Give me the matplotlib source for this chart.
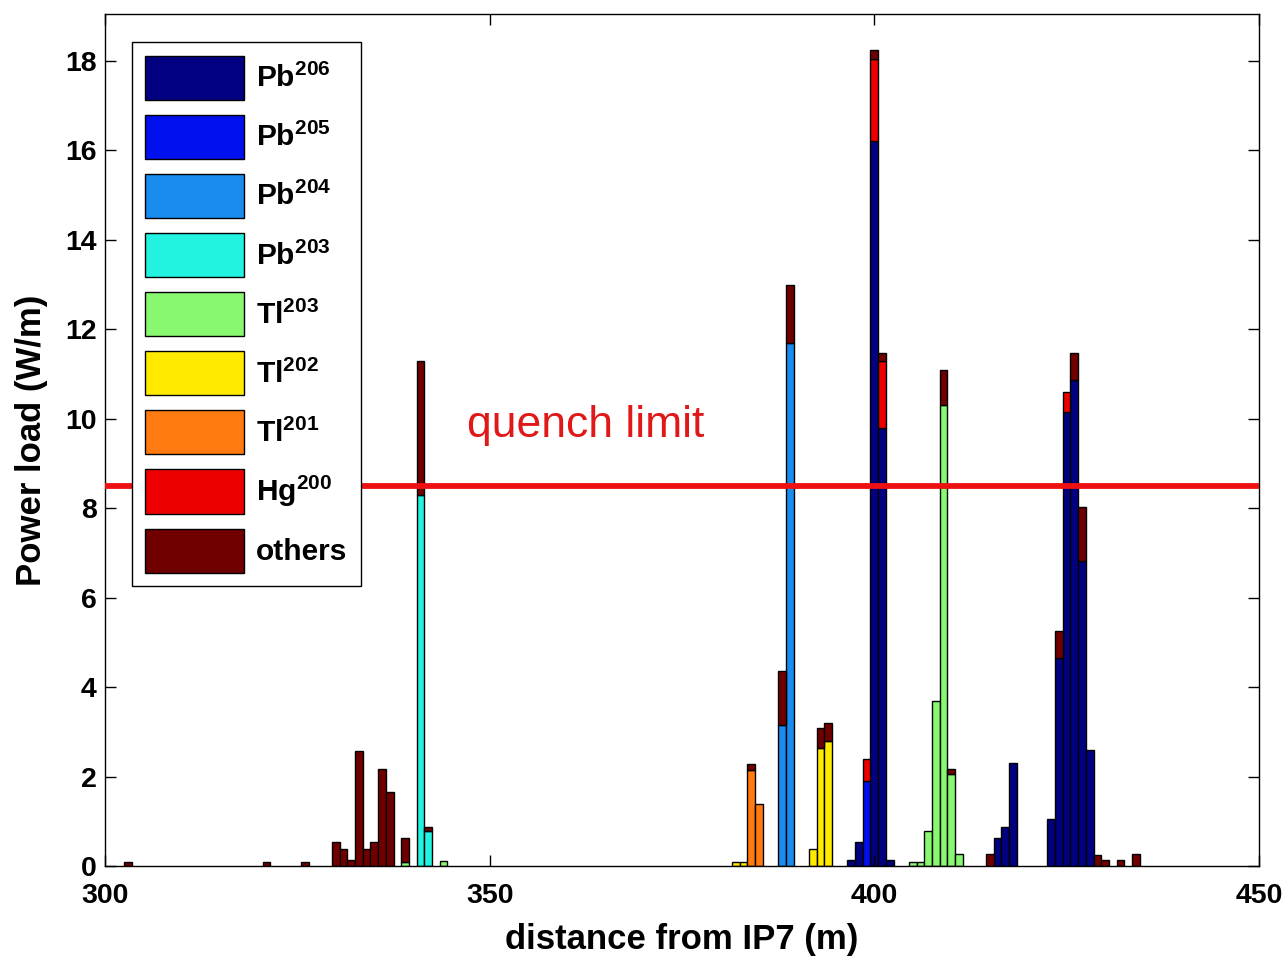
import matplotlib
matplotlib.use('Agg')
import matplotlib.pyplot as plt
import numpy as np

plt.rcParams['font.family'] = ['Liberation Sans', 'DejaVu Sans']
plt.rcParams['font.weight'] = 'bold'
plt.rcParams['mathtext.fontset'] = 'custom'
plt.rcParams['mathtext.rm'] = 'Liberation Sans:bold'
plt.rcParams['mathtext.bf'] = 'Liberation Sans:bold'

# bin centres (m from IP7), 1 m bins
pos = [303, 321, 326, 330, 331, 332, 333, 334, 335, 336, 337, 339, 341, 342, 344,
       382, 383, 384, 385, 388, 389, 392, 393, 394, 397, 398, 399, 400, 401, 402,
       405, 406, 407, 408, 409, 410, 411, 415, 416, 417, 418,
       423, 424, 425, 426, 427, 428, 429, 430, 432, 434]

pb206 = [0, 0, 0, 0, 0, 0, 0, 0, 0, 0, 0, 0, 0, 0, 0,
         0, 0, 0, 0, 0, 0, 0, 0, 0, 0.13, 0.54, 0, 16.2, 9.8, 0.13,
         0, 0, 0, 0, 0, 0, 0, 0, 0.63, 0.88, 2.31,
         1.05, 4.65, 10.15, 10.86, 6.83, 2.6, 0, 0, 0, 0]
pb205 = [0, 0, 0, 0, 0, 0, 0, 0, 0, 0, 0, 0, 0, 0, 0,
         0, 0, 0, 0, 0, 0, 0, 0, 0, 0, 0, 1.9, 0, 0, 0,
         0, 0, 0, 0, 0, 0, 0, 0, 0, 0, 0,
         0, 0, 0, 0, 0, 0, 0, 0, 0, 0]
pb204 = [0, 0, 0, 0, 0, 0, 0, 0, 0, 0, 0, 0, 0, 0, 0,
         0, 0, 0, 0, 3.15, 11.7, 0, 0, 0, 0, 0, 0, 0, 0, 0,
         0, 0, 0, 0, 0, 0, 0, 0, 0, 0, 0,
         0, 0, 0, 0, 0, 0, 0, 0, 0, 0]
pb203 = [0, 0, 0, 0, 0, 0, 0, 0, 0, 0, 0, 0, 8.3, 0.78, 0,
         0, 0, 0, 0, 0, 0, 0, 0, 0, 0, 0, 0, 0, 0, 0,
         0, 0, 0, 0, 0, 0, 0, 0, 0, 0, 0,
         0, 0, 0, 0, 0, 0, 0, 0, 0, 0]
tl203 = [0, 0, 0, 0, 0, 0, 0, 0, 0, 0, 0, 0.08, 0, 0, 0.11,
         0, 0, 0, 0, 0, 0, 0, 0, 0, 0, 0, 0, 0, 0, 0,
         0.1, 0.1, 0.78, 3.69, 10.3, 2.05, 0.28, 0, 0, 0, 0,
         0, 0, 0, 0, 0, 0, 0, 0, 0, 0]
tl202 = [0, 0, 0, 0, 0, 0, 0, 0, 0, 0, 0, 0, 0, 0, 0,
         0.1, 0.1, 0, 0, 0, 0, 0.37, 2.65, 2.8, 0, 0, 0, 0, 0, 0,
         0, 0, 0, 0, 0, 0, 0, 0, 0, 0, 0,
         0, 0, 0, 0, 0, 0, 0, 0, 0, 0]
tl201 = [0, 0, 0, 0, 0, 0, 0, 0, 0, 0, 0, 0, 0, 0, 0,
         0, 0, 2.15, 1.39, 0, 0, 0, 0, 0, 0, 0, 0, 0, 0, 0,
         0, 0, 0, 0, 0, 0, 0, 0, 0, 0, 0,
         0, 0, 0, 0, 0, 0, 0, 0, 0, 0]
hg200 = [0, 0, 0, 0, 0, 0, 0, 0, 0, 0, 0, 0, 0, 0, 0,
         0, 0, 0, 0, 0, 0, 0, 0, 0, 0, 0, 0.5, 1.85, 1.5, 0,
         0, 0, 0, 0, 0, 0, 0, 0, 0, 0, 0,
         0, 0, 0.45, 0, 0, 0, 0, 0, 0, 0]
others = [0.1, 0.1, 0.1, 0.54, 0.39, 0.13, 2.57, 0.39, 0.54, 2.17, 1.66, 0.55, 3.0, 0.09, 0,
          0, 0, 0.14, 0, 1.2, 1.3, 0, 0.43, 0.39, 0, 0, 0, 0.2, 0.17, 0,
          0, 0, 0, 0, 0.8, 0.11, 0, 0.28, 0, 0, 0,
          0, 0.6, 0, 0.6, 1.2, 0, 0.25, 0.13, 0.13, 0.28]

labels = [r'Pb$^{206}$', r'Pb$^{205}$', r'Pb$^{204}$', r'Pb$^{203}$', r'Tl$^{203}$',
          r'Tl$^{202}$', r'Tl$^{201}$', r'Hg$^{200}$', 'others']
colors = ['#000080', '#0010EE', '#1A8CF0', '#22F2E0', '#88F870',
          '#FFEA00', '#FF7A10', '#EE0000', '#700000']
quench = 8.5

fig = plt.figure(figsize=(12.84, 9.56), dpi=100)
ax = fig.add_axes([0.0818, 0.0941, 0.8987, 0.8913])

x = np.array(pos)
bottom = np.zeros(len(pos))
handles = []
for vals, c, lab in zip([pb206, pb205, pb204, pb203, tl203, tl202, tl201, hg200, others],
                        colors, labels):
    v = np.array(vals, dtype=float)
    m = v > 0
    b = ax.bar(x[m], v[m], bottom=bottom[m], width=1.0, color=c,
               edgecolor='black', linewidth=1.0, label=lab)
    handles.append(b)
    bottom += v

ax.axhline(quench, color='#EE1111', linewidth=4.2, zorder=3)
ax.text(347.1, 9.6, 'quench limit', color='#E01818', fontsize=32,
        fontweight='normal', va='baseline', ha='left')

ax.set_xlim(300, 450)
ax.set_ylim(0, 19.05)
ax.set_xticks([300, 350, 400, 450])
ax.set_yticks(np.arange(0, 19, 2))
ax.tick_params(direction='in', length=8, width=1, top=True, right=True,
               labelsize=20.5, pad=6)
ax.tick_params(axis='x', pad=12)
for s in ax.spines.values():
    s.set_linewidth(1.0)

ax.set_xlabel('distance from IP7 (m)', fontsize=25, fontweight='bold', labelpad=10)
ax.set_ylabel('Power load (W/m)', fontsize=25, fontweight='bold', labelpad=12)

leg = ax.legend(handles=handles, loc='upper left', bbox_to_anchor=(0.0234, 0.967),
                borderaxespad=0, fontsize=21.5, fancybox=False, edgecolor='black',
                framealpha=1, handlelength=3.3, handleheight=1.9, labelspacing=0.5,
                handletextpad=0.4, borderpad=0.45)
leg.get_frame().set_linewidth(1.0)
leg.set_zorder(5)

fig.savefig('out.png', dpi=100)
